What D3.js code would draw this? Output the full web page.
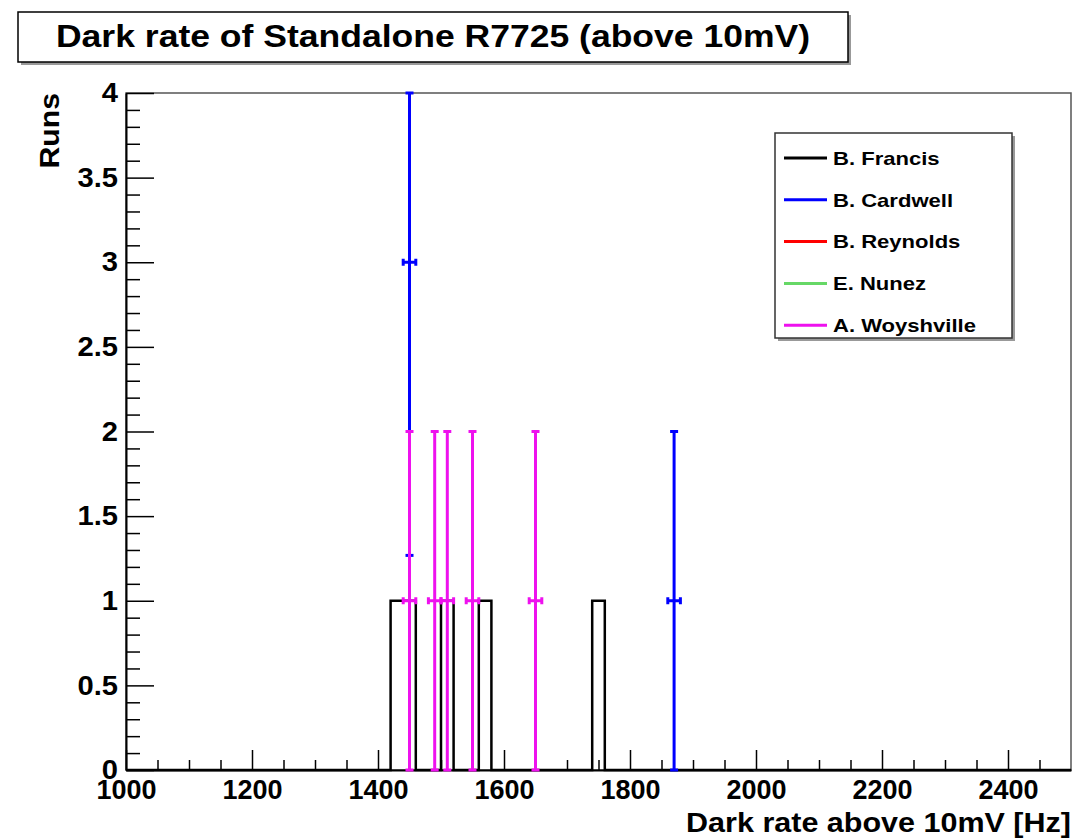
<!DOCTYPE html>
<html>
<head>
<meta charset="utf-8">
<script src="https://cdn.jsdelivr.net/npm/d3@7"></script>
<style>
  body { margin: 0; background: #fff; }
  text { font-family: "Liberation Sans", Arial, Helvetica, sans-serif; font-weight: bold; fill: #000; }
</style>
</head>
<body>
<svg id="chart" width="1074" height="838"></svg>
<script>
// histogram binning (20 Hz bins from 1000 to 2500)
const binWidth = 20;
const xRange = [1000, 2500];
const yRange = [0, 4];

// series: bin centres and counts
const francisCenters = [1430, 1450, 1510, 1570, 1750];
const francisCounts = [1, 1, 1, 1, 1];
const cardwellCenters = [1450, 1870];
const cardwellCounts = [3, 1];
const reynoldsCenters = [];
const reynoldsCounts = [];
const nunezCenters = [];
const nunezCounts = [];
const woyshvilleCenters = [1450, 1490, 1510, 1550, 1650];
const woyshvilleCounts = [1, 1, 1, 1, 1];

const legendNames = ["B. Francis", "B. Cardwell", "B. Reynolds", "E. Nunez", "A. Woyshville"];
const legendColors = ["#000000", "#0000ff", "#ff0000", "#66d866", "#ee11ee"];

const xTickLabels = [1000, 1200, 1400, 1600, 1800, 2000, 2200, 2400];
const yTickLabels = [0, 0.5, 1, 1.5, 2, 2.5, 3, 3.5, 4];

const plotL = 126, plotR = 1071, plotT = 93, plotB = 770;

const svg = d3.select("#chart");

// stretch text a bit wider, ROOT's Helvetica is broader than Liberation
function stretch(sel, k) {
  sel.each(function () {
    const L = this.getComputedTextLength();
    d3.select(this).attr("textLength", L * k).attr("lengthAdjust", "spacingAndGlyphs");
  });
}

const x = d3.scaleLinear().domain(xRange).range([plotL, plotR]);
const y = d3.scaleLinear().domain(yRange).range([plotB, plotT]);

// frame
svg.append("rect")
  .attr("x", plotL).attr("y", plotT)
  .attr("width", plotR - plotL).attr("height", plotB - plotT)
  .attr("fill", "none").attr("stroke", "#555").attr("stroke-width", 1.5);

// minor ticks
const xMinor = d3.range(xRange[0], xRange[1], 50).filter(v => v % 200 !== 0);
svg.append("g")
  .attr("transform", `translate(0,${plotB})`)
  .call(d3.axisBottom(x).tickValues(xMinor).tickSizeInner(-10).tickSizeOuter(0).tickFormat(""))
  .call(g => g.selectAll("line").attr("stroke", "#000").attr("stroke-width", 1.5))
  .call(g => g.select(".domain").remove());

const yMinor = d3.range(0, 40).map(i => i / 10).filter(v => Math.round(v * 10) % 5 !== 0);
svg.append("g")
  .attr("transform", `translate(${plotL},0)`)
  .call(d3.axisLeft(y).tickValues(yMinor).tickSizeInner(-14).tickSizeOuter(0).tickFormat(""))
  .call(g => g.selectAll("line").attr("stroke", "#000").attr("stroke-width", 1.5))
  .call(g => g.select(".domain").remove());

// main axes
const xAxis = svg.append("g")
  .attr("transform", `translate(0,${plotB})`)
  .call(d3.axisBottom(x).tickValues(xTickLabels).tickSizeInner(-20).tickSizeOuter(0).tickPadding(10).tickFormat(d3.format("d")));
xAxis.select(".domain").attr("stroke", "#000").attr("stroke-width", 2);
xAxis.selectAll("line").attr("stroke", "#000").attr("stroke-width", 1.5);
xAxis.selectAll("text").style("font-size", "27px").attr("font-family", null).attr("fill", "#000");

const yAxis = svg.append("g")
  .attr("transform", `translate(${plotL},0)`)
  .call(d3.axisLeft(y).tickValues(yTickLabels).tickSizeInner(-28).tickSizeOuter(0).tickPadding(8).tickFormat(d3.format("")));
yAxis.select(".domain").attr("stroke", "#000").attr("stroke-width", 2);
yAxis.selectAll("line").attr("stroke", "#000").attr("stroke-width", 1.5);
yAxis.selectAll("text").style("font-size", "27px").attr("font-family", null).attr("fill", "#000");
stretch(yAxis.selectAll("text"), 1.08);

// B. Francis histogram outline
const nBins = (xRange[1] - xRange[0]) / binWidth;
const francisBins = d3.range(nBins).map(i => {
  const lo = xRange[0] + i * binWidth;
  const j = francisCenters.findIndex(c => c > lo && c < lo + binWidth);
  return { lo: lo, v: j >= 0 ? francisCounts[j] : 0 };
});
francisBins.push({ lo: xRange[1], v: 0 });
const step = d3.line().x(d => x(d.lo)).y(d => y(d.v)).curve(d3.curveStepAfter);
svg.append("path")
  .attr("d", step(francisBins))
  .attr("fill", "none").attr("stroke", legendColors[0]).attr("stroke-width", 2.5);

// error bar series (E1 style)
function drawErrors(centers, counts, color) {
  const g = svg.append("g").attr("stroke", color).attr("stroke-width", 3).attr("fill", "none");
  centers.forEach((c, i) => {
    const v = counts[i], e = Math.sqrt(v);
    const lo = Math.max(yRange[0], v - e), hi = Math.min(yRange[1], v + e);
    const cx = x(c), cy = y(v);
    const hx0 = x(c - binWidth / 2), hx1 = x(c + binWidth / 2);
    g.append("line").attr("x1", cx).attr("x2", cx).attr("y1", y(lo)).attr("y2", y(hi));
    g.append("line").attr("x1", hx0).attr("x2", hx1).attr("y1", cy).attr("y2", cy);
    [lo, hi].forEach(t => g.append("line").attr("x1", cx - 4).attr("x2", cx + 4).attr("y1", y(t)).attr("y2", y(t)));
    [hx0, hx1].forEach(t => g.append("line").attr("x1", t).attr("x2", t).attr("y1", cy - 3.5).attr("y2", cy + 3.5));
  });
}
drawErrors(cardwellCenters, cardwellCounts, legendColors[1]);
drawErrors(reynoldsCenters, reynoldsCounts, legendColors[2]);
drawErrors(nunezCenters, nunezCounts, legendColors[3]);
drawErrors(woyshvilleCenters, woyshvilleCounts, legendColors[4]);

// axis titles
const xTitle = svg.append("text")
  .attr("x", plotR).attr("y", 832).attr("text-anchor", "end")
  .style("font-size", "27px").text("Dark rate above 10mV [Hz]");
stretch(xTitle, 1.13);

const yTitle = svg.append("text")
  .attr("transform", `translate(59,${plotT}) rotate(-90)`).attr("text-anchor", "end")
  .style("font-size", "28px").text("Runs");
stretch(yTitle, 1.08);

// title box
svg.append("rect").attr("x", 21).attr("y", 15).attr("width", 830).attr("height", 50).attr("fill", "#999");
svg.append("rect").attr("x", 18).attr("y", 12).attr("width", 830).attr("height", 50)
  .attr("fill", "#fff").attr("stroke", "#000").attr("stroke-width", 1.5);
const title = svg.append("text")
  .attr("x", 433).attr("y", 47).attr("text-anchor", "middle")
  .style("font-size", "32px").text("Dark rate of Standalone R7725 (above 10mV)");
stretch(title, 1.11);

// legend
svg.append("rect").attr("x", 778).attr("y", 136).attr("width", 237).attr("height", 205).attr("fill", "#999");
svg.append("rect").attr("x", 775).attr("y", 133).attr("width", 237).attr("height", 205)
  .attr("fill", "#fff").attr("stroke", "#333").attr("stroke-width", 1.5);
const entries = svg.append("g").selectAll("g").data(legendNames).join("g")
  .attr("transform", (d, i) => `translate(784,${158 + i * 41.8})`);
entries.append("line").attr("x1", 0).attr("x2", 43).attr("y1", 0).attr("y2", 0)
  .attr("stroke", (d, i) => legendColors[i]).attr("stroke-width", 3);
const legText = entries.append("text").attr("x", 49).attr("dy", "0.36em")
  .style("font-size", "19px").text(d => d);
stretch(legText, 1.16);
</script>
</body>
</html>
